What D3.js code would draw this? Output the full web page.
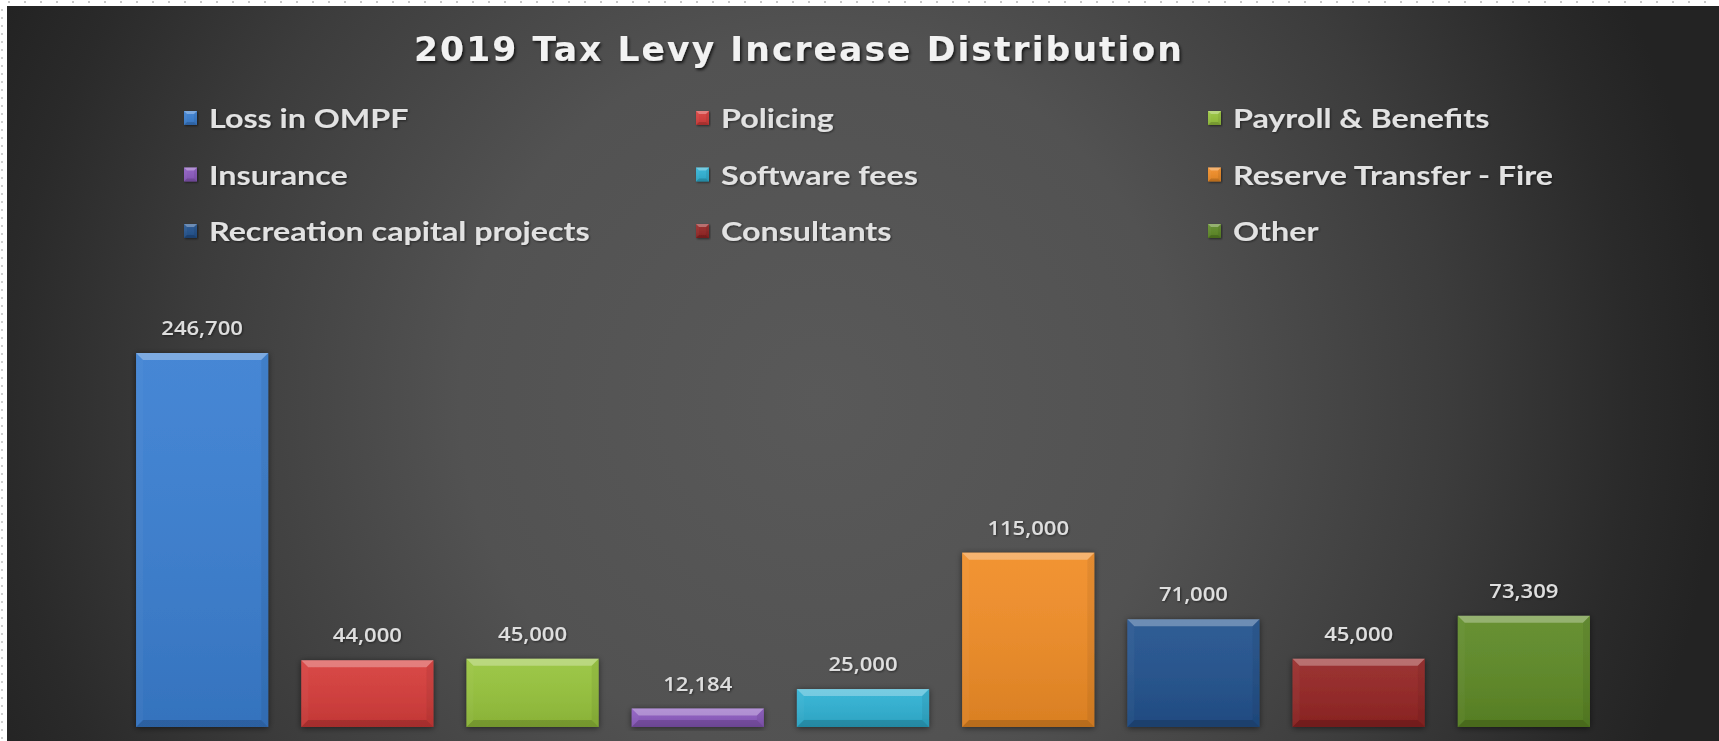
<!DOCTYPE html>
<html>
<head>
<meta charset="utf-8">
<script src="https://cdn.jsdelivr.net/npm/d3@7"></script>
<style>
  html, body { margin: 0; padding: 0; background: #ffffff; }
  svg { display: block; }
</style>
</head>
<body>
<svg id="chart" width="1719" height="741"></svg>
<script>
// Levy increase by category (dollars)
const categories = [
  "Loss in OMPF", "Policing", "Payroll & Benefits",
  "Insurance", "Software fees", "Reserve Transfer - Fire",
  "Recreation capital projects", "Consultants", "Other"
];
const values = [246700, 44000, 45000, 12184, 25000, 115000, 71000, 45000, 73309];
const colors = [
  "#3a7fd2", "#d63c3a", "#97c43c",
  "#8c5ac0", "#2fb2d4", "#f18d26",
  "#22528e", "#952524", "#5e8a26"
];
const titleText = "2019 Tax Levy Increase Distribution";

const W = 1719, H = 741;
const svg = d3.select("#chart");
const defs = svg.append("defs");

// Panel background: soft radial light in the middle, dark edges
const bg = defs.append("radialGradient")
  .attr("id", "bgGrad")
  .attr("gradientUnits", "userSpaceOnUse")
  .attr("cx", 820).attr("cy", 400).attr("r", 900);
[[0, "#595959"], [0.4, "#525252"], [0.7, "#3c3c3c"], [0.9, "#2a2a2a"], [1, "#232323"]]
  .forEach(([o, c]) => bg.append("stop").attr("offset", o).attr("stop-color", c));

// Shading overlay for bars (slight darkening toward the bottom)
const shade = defs.append("linearGradient")
  .attr("id", "barShade").attr("x1", 0).attr("y1", 0).attr("x2", 0).attr("y2", 1);
shade.append("stop").attr("offset", 0).attr("stop-color", "#fff").attr("stop-opacity", 0.06);
shade.append("stop").attr("offset", 1).attr("stop-color", "#000").attr("stop-opacity", 0.10);

// Shadows
const barShadow = defs.append("filter").attr("id", "barShadow")
  .attr("x", "-20%").attr("y", "-20%").attr("width", "140%").attr("height", "140%");
barShadow.append("feDropShadow").attr("dx", 0).attr("dy", 1).attr("stdDeviation", 3)
  .attr("flood-color", "#000").attr("flood-opacity", 0.55);

const textShadow = defs.append("filter").attr("id", "textShadow")
  .attr("x", "-10%").attr("y", "-30%").attr("width", "120%").attr("height", "160%");
textShadow.append("feDropShadow").attr("dx", 1.5).attr("dy", 2).attr("stdDeviation", 1.5)
  .attr("flood-color", "#000").attr("flood-opacity", 0.75);

const softShadow = defs.append("filter").attr("id", "softShadow")
  .attr("x", "-10%").attr("y", "-30%").attr("width", "120%").attr("height", "160%");
softShadow.append("feDropShadow").attr("dx", 1).attr("dy", 1).attr("stdDeviation", 1)
  .attr("flood-color", "#000").attr("flood-opacity", 0.5);

// Dotted frame along the top and left edges
const frame = svg.append("g");
frame.selectAll("rect.dt").data(d3.range(8, W, 16)).join("rect")
  .attr("x", d => d).attr("y", 1).attr("width", 2).attr("height", 2).attr("fill", "#c8c8c8");
frame.selectAll("rect.dl").data(d3.range(9, H, 8)).join("rect")
  .attr("x", 1).attr("y", d => d).attr("width", 2).attr("height", 2).attr("fill", "#d0d0d0");

// Chart panel
svg.append("rect").attr("x", 7).attr("y", 6).attr("width", W - 7).attr("height", H - 6)
  .attr("fill", "url(#bgGrad)");

// Stretch text horizontally by factor k
function stretch(sel, k) {
  sel.each(function () {
    const w = this.getComputedTextLength();
    this.setAttribute("textLength", w * k);
    this.setAttribute("lengthAdjust", "spacingAndGlyphs");
  });
}

// Title
svg.append("text")
  .attr("x", 799).attr("y", 61)
  .attr("text-anchor", "middle")
  .attr("font-family", "DejaVu Sans")
  .attr("font-weight", "bold")
  .attr("font-size", 33)
  .attr("letter-spacing", 2)
  .attr("fill", "#f2f2f2")
  .attr("filter", "url(#textShadow)")
  .attr("textLength", 770)
  .attr("lengthAdjust", "spacingAndGlyphs")
  .text(titleText);

// Scales
const x = d3.scaleBand()
  .domain(categories)
  .range([103, 1623])
  .paddingInner(0.2)
  .paddingOuter(0.2);

const y = d3.scaleLinear()
  .domain([0, 250000])
  .range([727, 348]);

const color = d3.scaleOrdinal().domain(categories).range(colors);
const fmt = d3.format(",");

// Bevelled bar drawing
function bevelBar(g, x0, y0, w, h, fill, b) {
  b = Math.min(b, h / 2, w / 2);
  g.append("rect").attr("x", x0).attr("y", y0).attr("width", w).attr("height", h).attr("fill", fill);
  g.append("rect").attr("x", x0).attr("y", y0).attr("width", w).attr("height", h).attr("fill", "url(#barShade)");
  const pts = (a) => a.map(p => p.join(",")).join(" ");
  // top bevel (highlight)
  g.append("polygon").attr("points", pts([[x0, y0], [x0 + w, y0], [x0 + w - b, y0 + b], [x0 + b, y0 + b]]))
    .attr("fill", "#fff").attr("fill-opacity", 0.3);
  // left bevel
  g.append("polygon").attr("points", pts([[x0, y0], [x0 + b, y0 + b], [x0 + b, y0 + h - b], [x0, y0 + h]]))
    .attr("fill", "#fff").attr("fill-opacity", 0.03);
  // right bevel
  g.append("polygon").attr("points", pts([[x0 + w, y0], [x0 + w, y0 + h], [x0 + w - b, y0 + h - b], [x0 + w - b, y0 + b]]))
    .attr("fill", "#000").attr("fill-opacity", 0.06);
  // bottom bevel
  g.append("polygon").attr("points", pts([[x0, y0 + h], [x0 + b, y0 + h - b], [x0 + w - b, y0 + h - b], [x0 + w, y0 + h]]))
    .attr("fill", "#000").attr("fill-opacity", 0.15);
}

// Bars
const bars = svg.append("g");
categories.forEach((c, i) => {
  const g = bars.append("g").attr("filter", "url(#barShadow)");
  const x0 = x(c), w = x.bandwidth();
  const y0 = y(values[i]), h = y(0) - y(values[i]);
  bevelBar(g, x0, y0, w, h, color(c), 7);
});

// Value labels
const labels = svg.append("g").selectAll("text")
  .data(categories)
  .join("text")
  .attr("x", d => x(d) + x.bandwidth() / 2)
  .attr("y", (d, i) => y(values[i]) - 18)
  .attr("text-anchor", "middle")
  .attr("font-family", "Open Sans")
  .attr("font-weight", 600)
  .attr("font-size", 19)
  .attr("fill", "#dedede")
  .attr("filter", "url(#softShadow)")
  .text((d, i) => fmt(values[i]));
stretch(labels, 1.16);

// Legend: 3 columns x 3 rows
const legend = svg.append("g");
const colX = [209, 721, 1233];
const rowY = [128, 184.5, 241];
categories.forEach((c, i) => {
  const tx = colX[i % 3], ty = rowY[Math.floor(i / 3)];
  const g = legend.append("g");
  const mk = g.append("g").attr("filter", "url(#softShadow)");
  bevelBar(mk, tx - 25, ty - 17, 13, 14, color(c), 3);
  const t = g.append("text")
    .attr("x", tx).attr("y", ty)
    .attr("font-family", "Lato")
    .attr("font-weight", "bold")
    .attr("font-size", 26)
    .attr("fill", "#e2e2e2")
    .attr("filter", "url(#softShadow)")
    .text(c);
  stretch(t, 1.24);
});
</script>
</body>
</html>
